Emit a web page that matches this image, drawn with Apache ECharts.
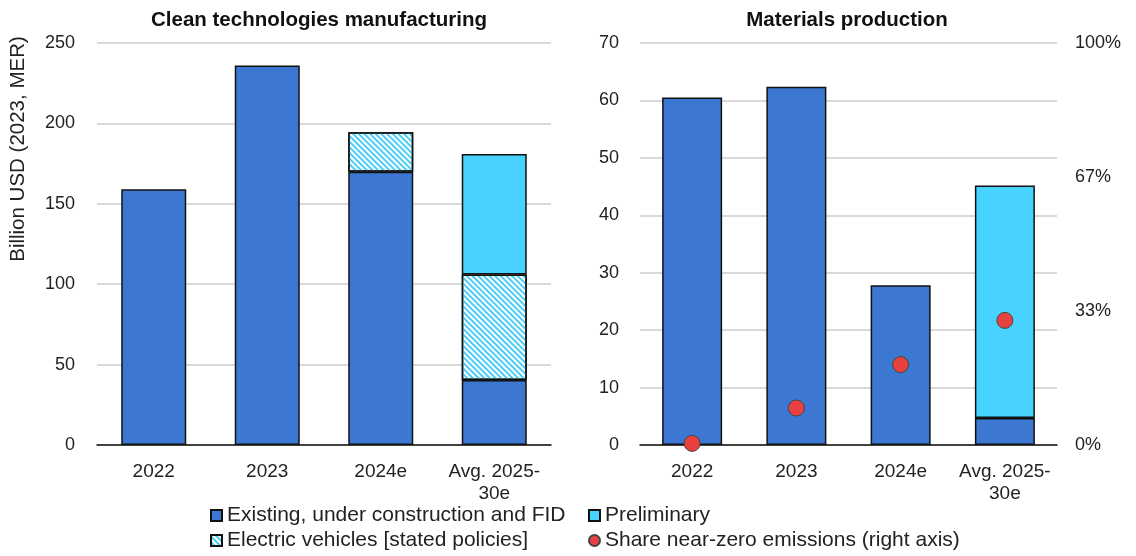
<!DOCTYPE html>
<html>
<head>
<meta charset="utf-8">
<script src="https://cdn.jsdelivr.net/npm/echarts@6/dist/echarts.min.js"></script>
<style>
  html, body { margin: 0; padding: 0; background: #fff; }
  #chart { width: 1136px; height: 556px; }
</style>
</head>
<body>
<div id="chart"></div>
<script>
// Investment categories shared by both panels
const categories = ['2022', '2023', '2024e', 'Avg. 2025-\n30e'];

// Clean technologies manufacturing (billion USD, 2023 MER)
const cleanExisting = [159, 236, 170, 40.5];
const cleanEV = [null, null, 24.5, 65.5];
const cleanPreliminary = [null, null, null, 75];

// Materials production (billion USD, 2023 MER)
const matExisting = [60.5, 62.4, 27.8, 4.7];
const matPreliminary = [null, null, null, 40.5];

// Share of near-zero emissions projects (right axis, fraction)
const matShareNearZero = [0.004, 0.092, 0.20, 0.31];

const NAME_EXISTING = 'Existing, under construction and FID';
const NAME_PRELIM = 'Preliminary';
const NAME_EV = 'Electric vehicles [stated policies]';
const NAME_SHARE = 'Share near-zero emissions (right axis)';

const FONT = 'Liberation Sans, Arial, sans-serif';
const C_EXIST = '#3c78d1';
const C_PRELIM = '#48d3fe';
const C_HATCH = '#4ccdf5';
const BORDER = '#111';

const chart = echarts.init(document.getElementById('chart'), null, { renderer: 'canvas' });

const catAxis = (gridIndex) => ({
  type: 'category',
  gridIndex,
  data: categories,
  axisTick: { show: false },
  axisLine: { lineStyle: { color: '#111', width: 1.5 } },
  axisLabel: { margin: 16, lineHeight: 22, interval: 0, color: '#222', fontSize: 19, fontFamily: FONT }
});

const valueLabel = { color: '#222', fontSize: 18, fontFamily: FONT };

const hatchDecal = {
  symbol: 'rect',
  symbolSize: 1,
  dashArrayX: [1, 0],
  dashArrayY: [2, 2],
  rotation: Math.PI / 4,
  color: C_HATCH
};

const barStyle = (color) => ({ color, borderColor: BORDER, borderWidth: 1.5 });

const legendText = { fontSize: 21, color: '#222', fontFamily: FONT };

chart.setOption({
  animation: false,
  backgroundColor: '#fff',
  textStyle: { fontFamily: FONT },
  grid: [
    { left: 97, right: 585, top: 43, bottom: 111 },
    { left: 640, right: 79, top: 43, bottom: 111 }
  ],
  xAxis: [catAxis(0), catAxis(1)],
  yAxis: [
    {
      type: 'value', gridIndex: 0, min: 0, max: 250, interval: 50,
      axisLine: { show: false }, axisTick: { show: false },
      axisLabel: Object.assign({ margin: 22 }, valueLabel),
      splitLine: { lineStyle: { color: '#d9d9d9', width: 2 } }
    },
    {
      type: 'value', gridIndex: 1, min: 0, max: 70, interval: 10,
      axisLine: { show: false }, axisTick: { show: false },
      axisLabel: Object.assign({ margin: 21 }, valueLabel),
      splitLine: { lineStyle: { color: '#d9d9d9', width: 2 } }
    },
    {
      type: 'value', gridIndex: 1, position: 'right', min: 0, max: 1, interval: 1 / 3,
      axisLine: { show: false }, axisTick: { show: false },
      axisLabel: Object.assign({ margin: 18, formatter: (v) => Math.round(v * 100) + '%' }, valueLabel),
      splitLine: { show: false }
    }
  ],
  legend: [
    {
      orient: 'vertical', left: 210, top: 505, height: 51, itemGap: 4, padding: 0,
      itemWidth: 11, itemHeight: 11, textStyle: legendText, selectedMode: false,
      data: [{ name: NAME_EXISTING, icon: 'rect' }, { name: NAME_EV, icon: 'rect' }]
    },
    {
      orient: 'vertical', left: 588, top: 505, height: 51, itemGap: 4, padding: 0,
      itemWidth: 11, itemHeight: 11, textStyle: legendText, selectedMode: false,
      data: [{ name: NAME_PRELIM, icon: 'rect' }, { name: NAME_SHARE, icon: 'circle' }]
    }
  ],
  graphic: [
    {
      type: 'text',
      style: { text: 'Clean technologies manufacturing', x: 319, y: 20, textAlign: 'center', textVerticalAlign: 'middle', font: 'bold 20.5px ' + FONT, fill: '#111' }
    },
    {
      type: 'text',
      style: { text: 'Materials production', x: 847, y: 20, textAlign: 'center', textVerticalAlign: 'middle', font: 'bold 20.5px ' + FONT, fill: '#111' }
    },
    {
      type: 'text', rotation: Math.PI / 2, x: 18, y: 149,
      style: { text: 'Billion USD (2023, MER)', x: 0, y: 0, textAlign: 'center', textVerticalAlign: 'middle', font: '20.5px ' + FONT, fill: '#222' }
    }
  ],
  series: [
    {
      name: NAME_EXISTING, type: 'bar', stack: 'clean', xAxisIndex: 0, yAxisIndex: 0,
      barWidth: 65, data: cleanExisting, itemStyle: barStyle(C_EXIST)
    },
    {
      name: NAME_EV, type: 'bar', stack: 'clean', xAxisIndex: 0, yAxisIndex: 0,
      barWidth: 65, data: cleanEV,
      itemStyle: Object.assign(barStyle('#ffffff'), { decal: hatchDecal })
    },
    {
      name: NAME_PRELIM, type: 'bar', stack: 'clean', xAxisIndex: 0, yAxisIndex: 0,
      barWidth: 65, data: cleanPreliminary, itemStyle: barStyle(C_PRELIM)
    },
    {
      name: NAME_EXISTING, type: 'bar', stack: 'mat', xAxisIndex: 1, yAxisIndex: 1,
      barWidth: 60, data: matExisting, itemStyle: barStyle(C_EXIST)
    },
    {
      name: NAME_PRELIM, type: 'bar', stack: 'mat', xAxisIndex: 1, yAxisIndex: 1,
      barWidth: 60, data: matPreliminary, itemStyle: barStyle(C_PRELIM)
    },
    {
      name: NAME_SHARE, type: 'scatter', xAxisIndex: 1, yAxisIndex: 2,
      symbolSize: 16, data: matShareNearZero, z: 5,
      itemStyle: { color: '#e8413f', borderColor: '#444', borderWidth: 1, opacity: 1 }
    }
  ]
});
</script>
</body>
</html>
